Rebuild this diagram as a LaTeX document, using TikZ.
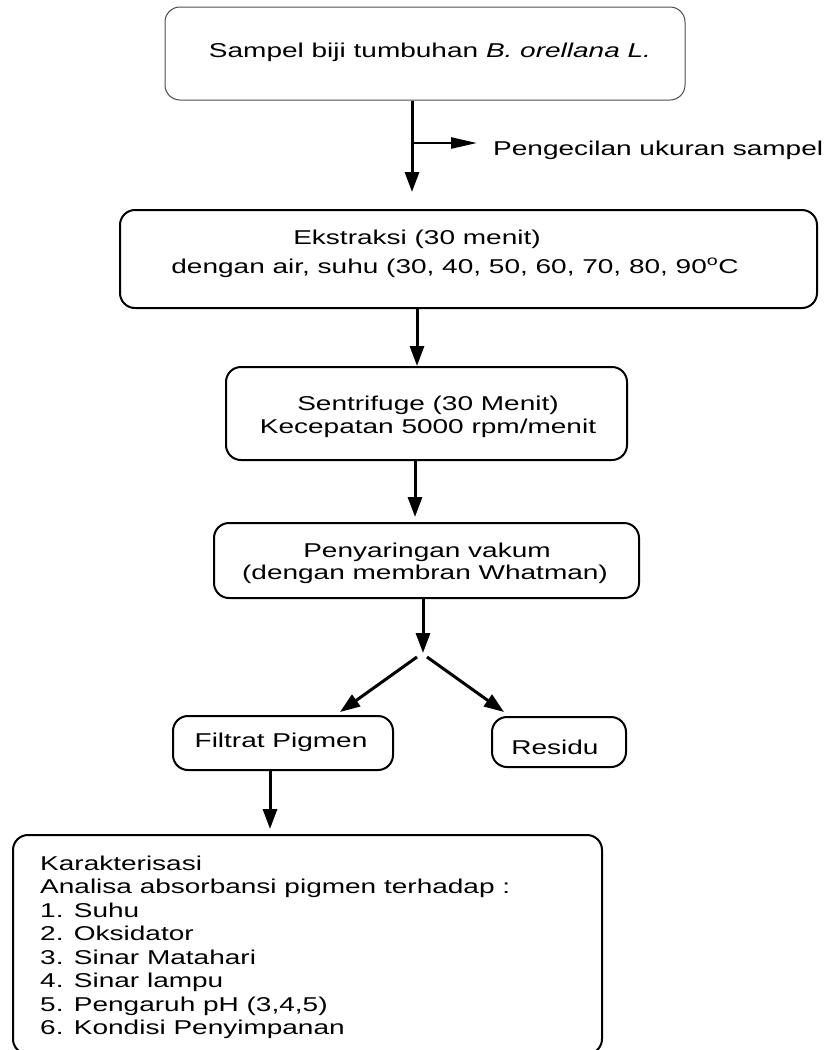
\documentclass[tikz,border=0pt]{standalone}
\usepackage{fontspec}
\setmainfont[FakeStretch=1.4]{Liberation Sans}
\usetikzlibrary{arrows.meta}
\begin{document}
\begin{tikzpicture}[x=1pt,y=-1pt,
  box/.style={draw=black, line width=2pt, rounded corners=15pt, inner sep=0pt},
  firstbox/.style={draw=black!70, line width=1pt, rounded corners=15pt, inner sep=0pt},
  txt/.style={font=\fontsize{20}{23}\selectfont, inner sep=0pt, anchor=base},
  ltxt/.style={font=\fontsize{20}{23}\selectfont, inner sep=0pt, anchor=base west},
  arr/.style={line width=3pt, -{Triangle[length=20pt,width=14pt]}},
  harr/.style={line width=2.5pt, -{Triangle[length=26pt,width=11pt]}}
]
\useasboundingbox (0,0) rectangle (828,1050);

% boxes
\node[firstbox, minimum width=520pt, minimum height=93pt] (b1) at (425,53.5) {};
\node[box, minimum width=697pt, minimum height=98pt] (b2) at (468.5,259) {};
\node[box, minimum width=401pt, minimum height=93pt] (b3) at (426.5,413.5) {};
\node[box, minimum width=425pt, minimum height=75pt] (b4) at (426.5,560.5) {};
\node[box, minimum width=220pt, minimum height=54pt] (b5) at (283,743) {};
\node[box, minimum width=134pt, minimum height=50pt] (b6) at (559,742) {};
\node[box, minimum width=589pt, minimum height=219pt] (b7) at (307.5,944.5) {};

% texts
\node[txt] (t1) at (430,57) {Sampel biji tumbuhan \textit{B. orellana L.}};
\node[txt] (t2a) at (417,244) {Ekstraksi (30 menit)};
\node[txt] (t2b) at (455,273) {dengan air, suhu (30, 40, 50, 60, 70, 80, 90\textsuperscript{o}C};
\node[txt] (t3a) at (428,410) {Sentrifuge (30 Menit)};
\node[txt] (t3b) at (428,433) {Kecepatan 5000 rpm/menit};
\node[txt] (t4a) at (427,557) {Penyaringan vakum};
\node[txt] (t4b) at (425,579) {(dengan membran Whatman)};
\node[txt] (t5) at (281,747) {Filtrat Pigmen};
\node[txt] (t6) at (555,754) {Residu};
\node[ltxt] (t7a) at (40,870) {Karakterisasi};
\node[ltxt] (t7b) at (40,893.5) {Analisa absorbansi pigmen terhadap :};
\node[ltxt] (t7c) at (40,917) {1. Suhu};
\node[ltxt] (t7d) at (40,940.5) {2. Oksidator};
\node[ltxt] (t7e) at (40,964) {3. Sinar Matahari};
\node[ltxt] (t7f) at (40,987.5) {4. Sinar lampu};
\node[ltxt] (t7g) at (40,1011) {5. Pengaruh pH (3,4,5)};
\node[ltxt] (t7h) at (40,1034.5) {6. Kondisi Penyimpanan};
\node[ltxt] (tp) at (493,155) {Pengecilan ukuran sampel};

% connector coordinates
\coordinate (a1e) at (412,192);
\coordinate (br) at (412,143);
\coordinate (bre) at (477,143);
\coordinate (sp) at (423,653);
\coordinate (spl) at (417,657);
\coordinate (spr) at (427,657);
\coordinate (dl) at (340,712);
\coordinate (dr) at (504,712);

% connectors
\draw[arr] (b1.south -| a1e) -- (a1e);
\draw[harr] (br) -- (bre);
\draw[arr] (b2.south -| 417,0) -- (b3.north -| 417,0);
\draw[arr] (b3.south -| 415,0) -- ([yshift=5pt]b4.north -| 415,0);
\draw[arr] (b4.south -| sp) -- (sp);
\draw[arr] (spl) -- (dl);
\draw[arr] (spr) -- (dr);
\draw[arr] (b5.south -| 270,0) -- ([yshift=5pt]b7.north -| 270,0);
\end{tikzpicture}
\end{document}
